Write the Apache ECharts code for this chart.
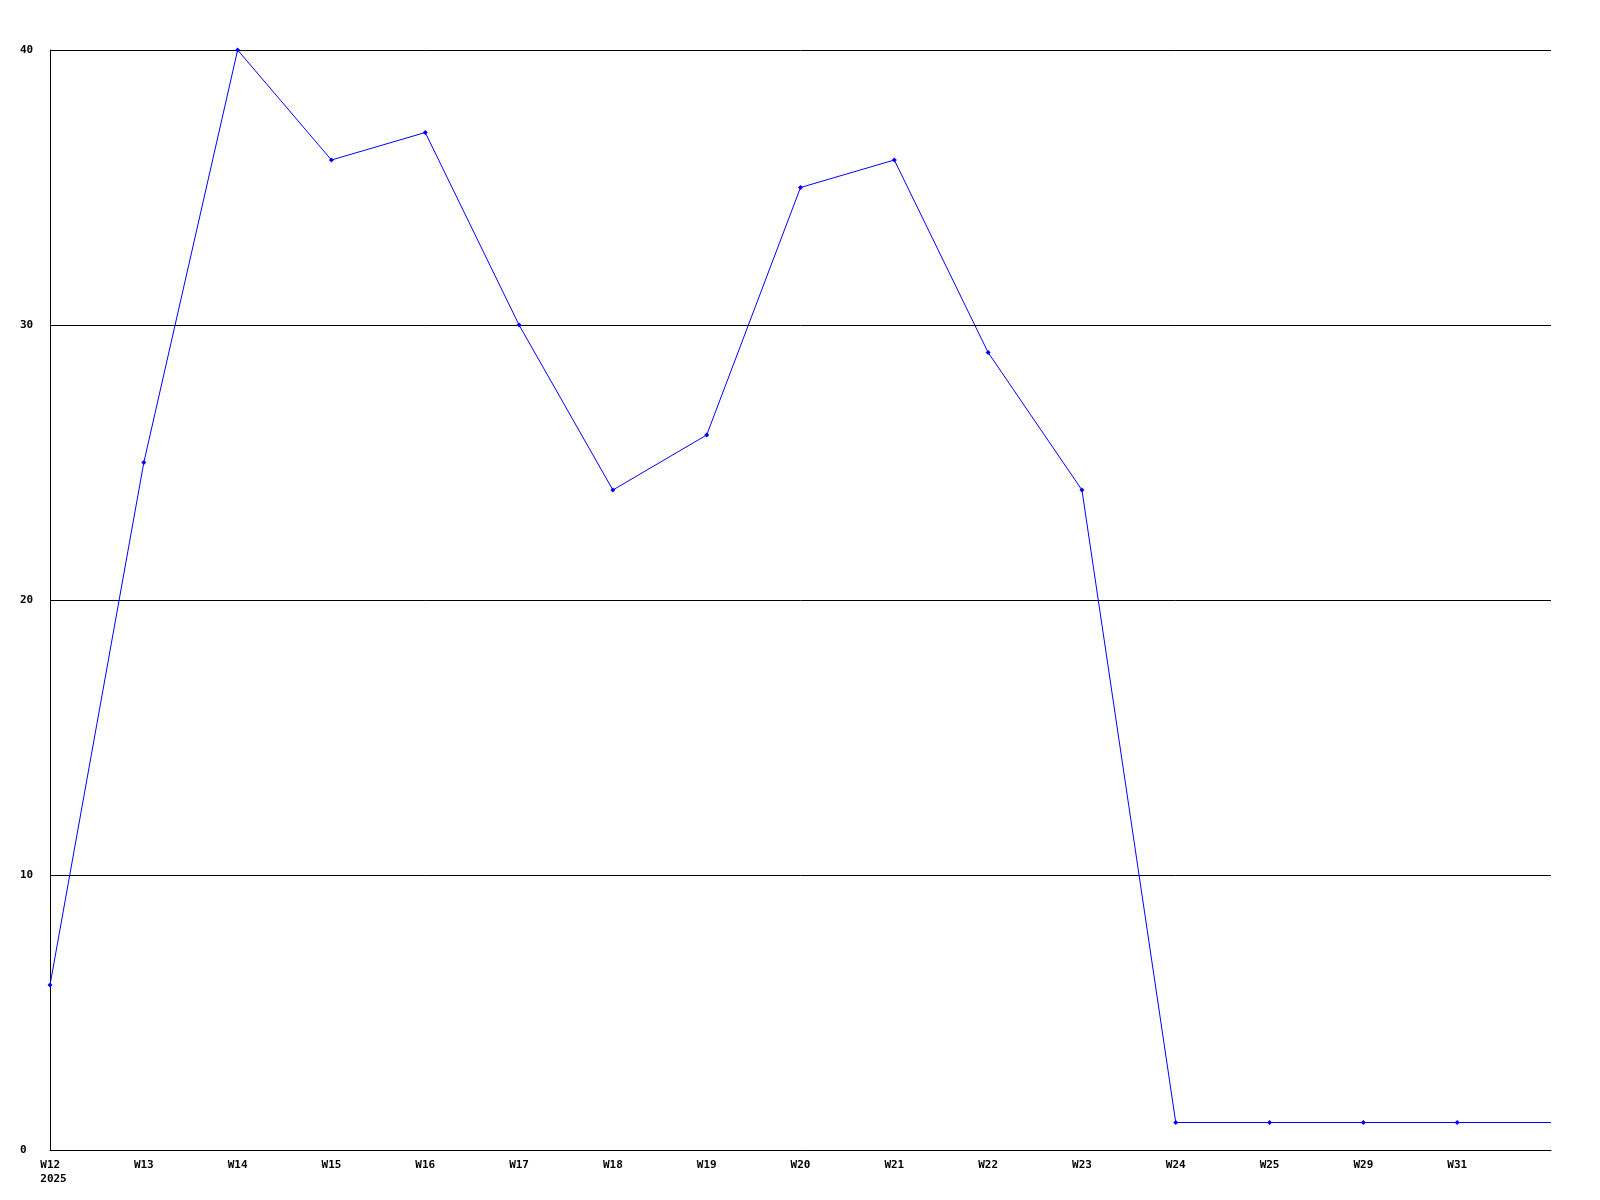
<!DOCTYPE html>
<html><head><meta charset="utf-8">
<script src="https://cdn.jsdelivr.net/npm/echarts@6/dist/echarts.min.js"></script>
<style>html,body{margin:0;padding:0;background:#fff}#c{width:1600px;height:1200px}</style>
</head><body><div id="c"></div>
<script>
const categories = ['W12','W13','W14','W15','W16','W17','W18','W19','W20','W21','W22','W23','W24','W25','W29','W31',''];
const yearLabel = '2025';
const values = [6,25,40,36,37,30,24,26,35,36,29,24,1,1,1,1,1];
const yTicks = {min:0, max:40, interval:10};
const chart = echarts.init(document.getElementById('c'), null, {renderer:'canvas'});
const font = {fontFamily:'DejaVu Sans Mono', fontWeight:'bold', fontSize:11, color:'#000'};
const xData = categories.map((c, i) => i === 0
  ? {value: c + ' \n' + yearLabel, textStyle: {padding: [0, 0, 0, 7]}}
  : c);
const seriesData = values.map((v, i) => i === values.length - 1 ? {value: v, symbol: 'none'} : v);
chart.setOption({
  animation:false,
  grid:{left:50,right:49,top:50,bottom:50,containLabel:false},
  xAxis:{type:'category',data:xData,boundaryGap:false,
    axisLine:{lineStyle:{color:'#000',width:1}},axisTick:{show:false},
    axisLabel:Object.assign({interval:0,margin:8,lineHeight:14},font),
    splitLine:{show:false}},
  yAxis:{type:'value',min:yTicks.min,max:yTicks.max,interval:yTicks.interval,
    axisLine:{show:true,lineStyle:{color:'#000',width:1}},axisTick:{show:false},
    axisLabel:Object.assign({margin:30,align:'left',verticalAlign:'middle'},font),
    splitLine:{show:true,lineStyle:{color:'#000',width:1}}},
  series:[{type:'line',data:seriesData,symbol:'diamond',symbolSize:5,showAllSymbol:true,
    lineStyle:{color:'#0000ff',width:1},itemStyle:{color:'#0000ff'}}]
});
</script></body></html>
